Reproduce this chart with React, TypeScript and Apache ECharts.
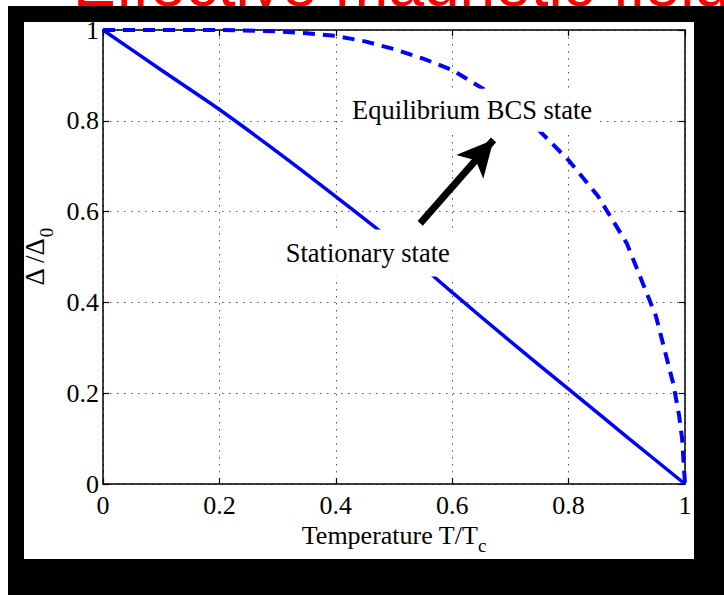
import React, { useEffect, useRef } from 'react';
import * as echarts from 'echarts';

// ---- data ----
const tickStep = 0.2;
const stationaryT = [0, 0.1, 0.2, 0.3, 0.4, 0.5, 0.6, 0.7, 0.8, 0.9, 1.0];
const stationaryGap = [1, 0.912, 0.825, 0.731, 0.633, 0.532, 0.422, 0.314, 0.209, 0.104, 0];
const bcsT = [0, 0.1, 0.2, 0.3, 0.35, 0.4, 0.45, 0.5, 0.55, 0.6, 0.65, 0.7, 0.75, 0.8, 0.85, 0.9, 0.95, 0.98, 0.99, 0.995, 1.0];
const bcsGap = [1, 1, 1, 0.997, 0.993, 0.987, 0.975, 0.958, 0.937, 0.912, 0.873, 0.83, 0.778, 0.713, 0.635, 0.53, 0.37, 0.22, 0.15, 0.1, 0];

const titleText = 'Effective magnetic field';
const labelBCS = 'Equilibrium BCS state';
const labelStationary = 'Stationary state';
const xNameMain = 'Temperature T/T';
const xNameSub = 'c';
const yNameMain = 'Δ /Δ';
const yNameSub = '0';

// annotation anchors in data coordinates
const arrowFrom = [0.545, 0.574];
const arrowTo = [0.671, 0.758];
const labelBCSAt = [0.428, 0.823];
const labelStationaryAt = [0.314, 0.509];

const SERIF = '"Liberation Serif", "Times New Roman", serif';
const BLUE = '#0000ff';

export default function App() {
  const ref = useRef<HTMLDivElement>(null);

  useEffect(() => {
    if (!ref.current) return;
    const chart = echarts.init(ref.current, undefined, { renderer: 'svg' });

    const axisCommon = {
      type: 'value' as const,
      min: 0,
      max: 1,
      interval: tickStep,
      z: 5,
      axisLine: { show: true, onZero: false, lineStyle: { color: '#000', width: 1.5 } },
      axisTick: { show: true, inside: true, length: 6, lineStyle: { color: '#000', width: 1.2 } },
    };
    const labelStyle = { fontFamily: SERIF, fontSize: 26, color: '#000' };
    const splitLine = { show: true, lineStyle: { type: [1.5, 5.5], color: '#555', width: 1 } };

    // the red title is clipped at the top edge of the black frame (y = 6)
    const titleX = 73;
    const titleY = -16;
    const frameTop = 6;

    const option: any = {
      animation: false,
      backgroundColor: '#fff',
      grid: { left: 103, top: 30, width: 582, height: 454, show: false },
      xAxis: [
        {
          ...axisCommon,
          position: 'bottom',
          axisLabel: { ...labelStyle, margin: 8 },
          splitLine,
          name: `{m|${xNameMain}}{s|${xNameSub}}`,
          nameLocation: 'middle',
          nameGap: 30,
          nameTextStyle: {
            rich: {
              m: { ...labelStyle, verticalAlign: 'top' },
              s: { fontFamily: SERIF, fontSize: 19, color: '#000', verticalAlign: 'top', padding: [13, 0, 0, 0] },
            },
          },
        },
        { ...axisCommon, position: 'top', axisLabel: { show: false }, splitLine: { show: false } },
      ],
      yAxis: [
        {
          ...axisCommon,
          position: 'left',
          axisLabel: { ...labelStyle, margin: 4 },
          splitLine,
          name: `{m|${yNameMain}}{s|${yNameSub}}`,
          nameLocation: 'middle',
          nameRotate: 90,
          nameGap: 44,
          nameTextStyle: {
            rich: {
              m: { fontFamily: SERIF, fontSize: 27, color: '#000', verticalAlign: 'top' },
              s: { fontFamily: SERIF, fontSize: 19, color: '#000', verticalAlign: 'top', padding: [15, 0, 0, 0] },
            },
          },
        },
        { ...axisCommon, position: 'right', axisLabel: { show: false }, splitLine: { show: false } },
      ],
      series: [
        {
          type: 'line',
          data: stationaryT.map((t, i) => [t, stationaryGap[i]]),
          symbol: 'none',
          clip: false,
          smooth: 0.3,
          lineStyle: { color: BLUE, width: 3.5 },
          z: 6,
          markLine: {
            silent: true,
            symbol: ['none', 'arrow'],
            symbolSize: [27, 36],
            label: { show: false },
            lineStyle: { color: '#000', width: 7, type: 'solid' },
            itemStyle: { color: '#000' },
            emphasis: { disabled: true },
            data: [[{ coord: arrowFrom }, { coord: arrowTo }]],
          },
        },
        {
          type: 'line',
          data: bcsT.map((t, i) => [t, bcsGap[i]]),
          symbol: 'none',
          clip: false,
          lineStyle: { color: BLUE, width: 4, type: [12, 8] },
          z: 6,
        },
        {
          type: 'custom',
          coordinateSystem: 'none',
          silent: true,
          z: 0,
          data: [[0]],
          renderItem: () => ({
            type: 'text',
            x: titleX,
            y: titleY,
            silent: true,
            style: {
              text: titleText,
              fill: '#ff0000',
              fontSize: 64,
              fontFamily: '"Liberation Sans", Arial, sans-serif',
              verticalAlign: 'middle',
              align: 'left',
            },
            clipPath: {
              type: 'rect',
              shape: { x: -titleX - 10, y: -200, width: 900, height: 200 + frameTop - titleY },
            },
          }),
        },
      ],
    };
    chart.setOption(option);

    const pBCS = chart.convertToPixel({ gridIndex: 0 }, labelBCSAt) as number[];
    const pSt = chart.convertToPixel({ gridIndex: 0 }, labelStationaryAt) as number[];

    chart.setOption({
      graphic: [
        { type: 'rect', z: -20, shape: { x: 8, y: frameTop, width: 716, height: 589 }, style: { fill: '#000' } },
        { type: 'rect', z: -10, shape: { x: 24, y: 22, width: 670, height: 537 }, style: { fill: '#fff' } },
        {
          type: 'text', z: 50, x: pBCS[0] - 6, y: pBCS[1],
          style: { text: labelBCS, fill: '#000', fontFamily: SERIF, fontSize: 26.5, backgroundColor: '#fff', padding: [8, 6, 8, 6], verticalAlign: 'middle', align: 'left' },
        },
        {
          type: 'text', z: 50, x: pSt[0] - 6, y: pSt[1],
          style: { text: labelStationary, fill: '#000', fontFamily: SERIF, fontSize: 26.5, backgroundColor: '#fff', padding: [10, 6, 10, 6], verticalAlign: 'middle', align: 'left' },
        },
      ],
    });

    return () => chart.dispose();
  }, []);

  return <div ref={ref} style={{ position: 'absolute', left: 0, top: 0, width: 724, height: 595 }} />;
}
